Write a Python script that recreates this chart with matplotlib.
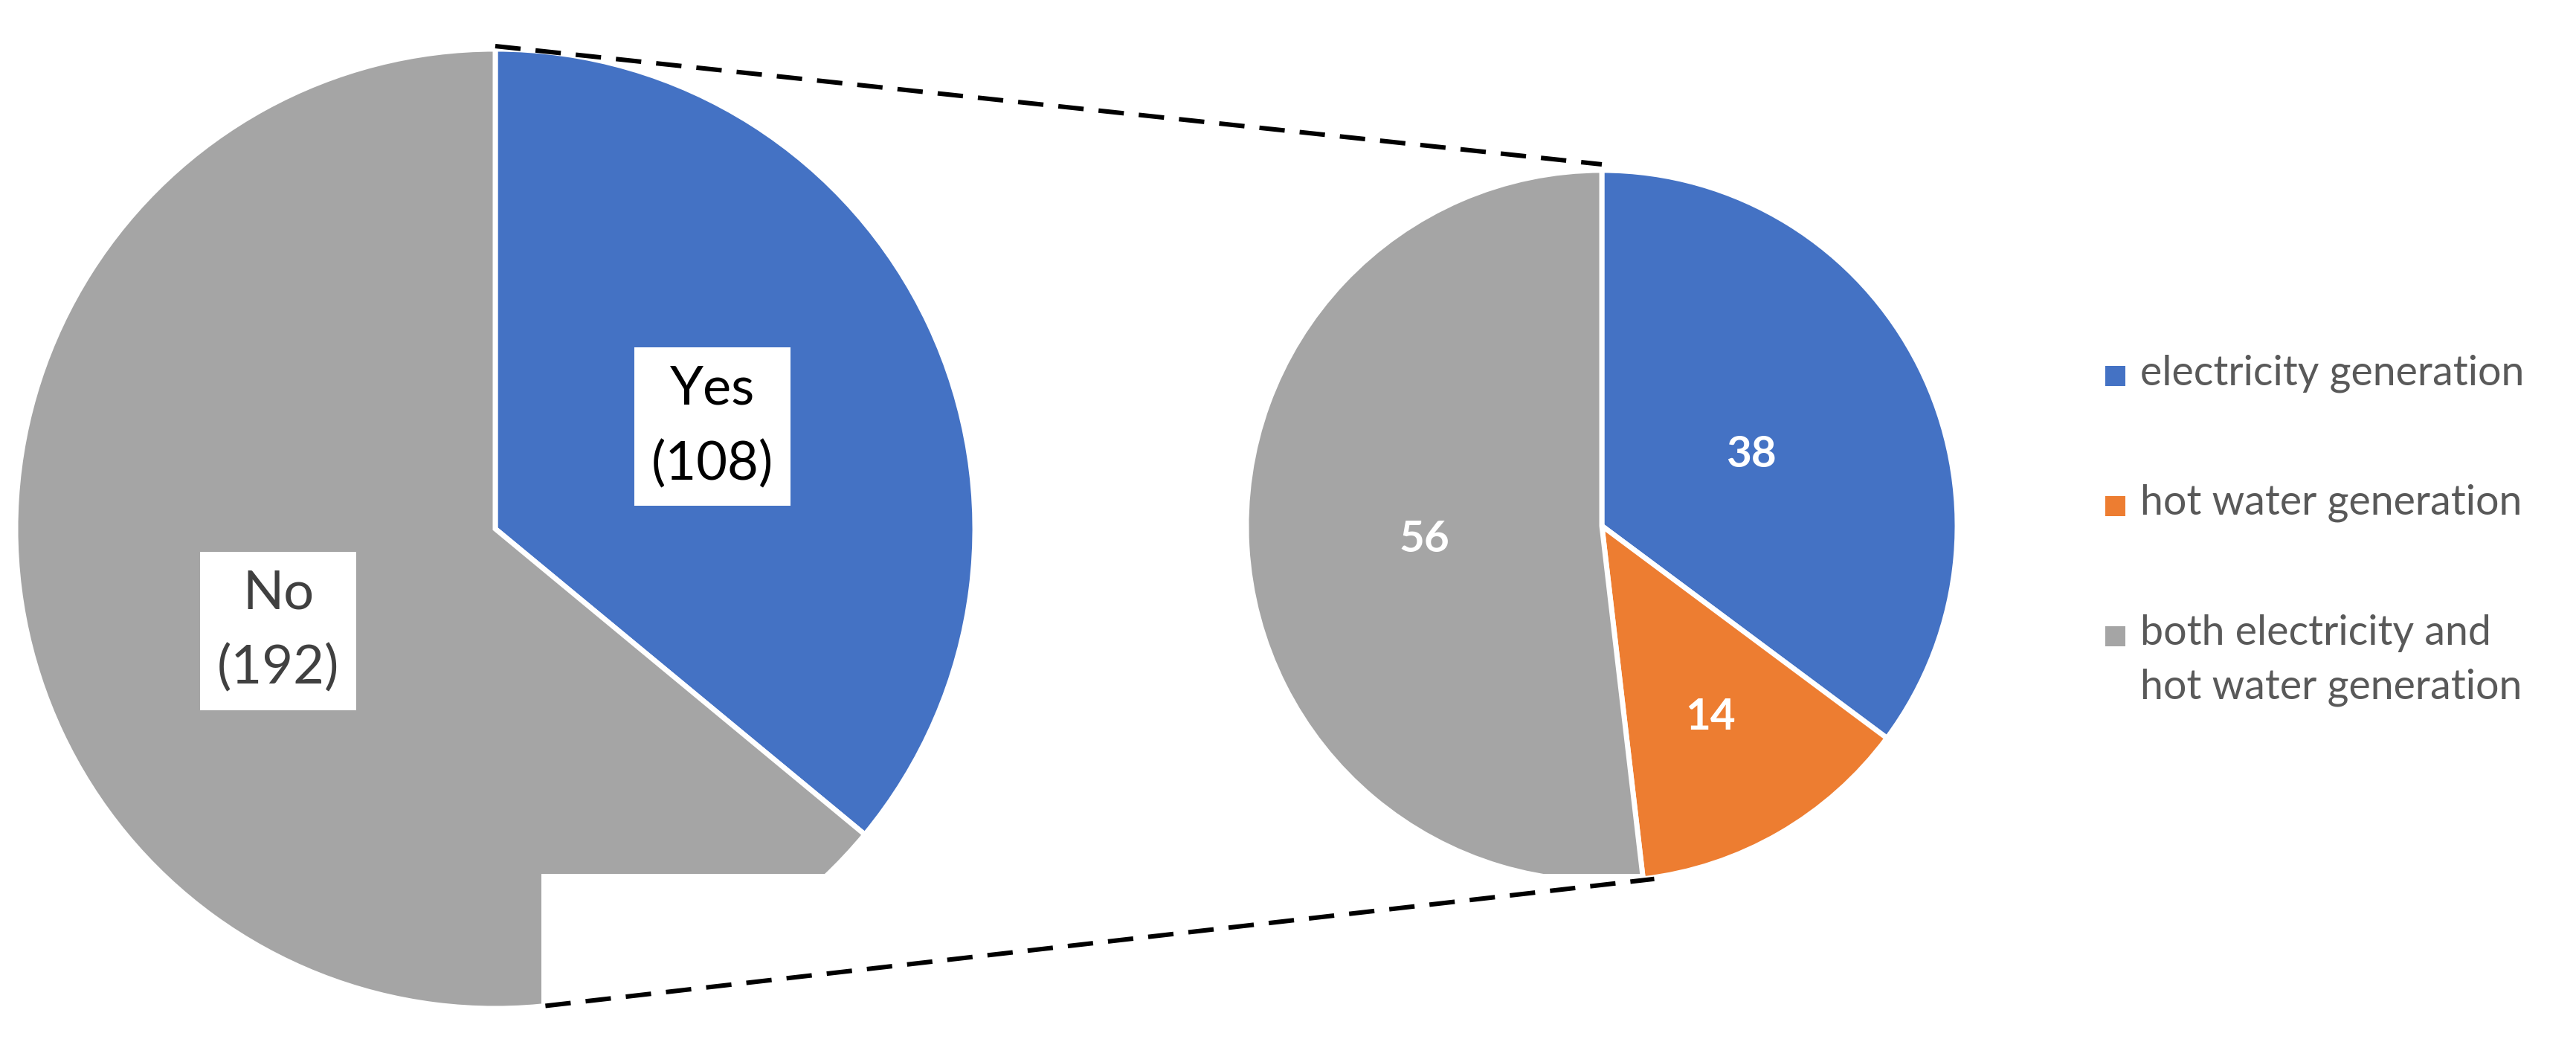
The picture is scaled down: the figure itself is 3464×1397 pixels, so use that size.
import numpy as np
import matplotlib
matplotlib.use("Agg")
import matplotlib.pyplot as plt
from matplotlib.patches import Rectangle

plt.rcParams["font.family"] = ["Lato", "DejaVu Sans"]

# data
outer_labels = ["Yes", "No"]
outer_values = [108, 192]
inner_labels = ["electricity generation", "hot water generation",
                "both electricity and\nhot water generation"]
inner_values = [38, 14, 56]

BLUE, ORANGE, GRAY = "#4472C4", "#ED7D31", "#A5A5A5"
W, H = 3464, 1397

fig = plt.figure(figsize=(W / 200, H / 200), dpi=200)
ax = fig.add_axes([0, 0, 1, 1])

# big pie (pixel-space layout, y up)
c1, r1 = (666, H - 711), 645
wedges1, _ = ax.pie(outer_values, colors=[BLUE, GRAY], startangle=90,
                    counterclock=False, center=c1, radius=r1, frame=True,
                    wedgeprops=dict(edgecolor="white", linewidth=2.5))

# small pie
c2, r2 = (2154, H - 707), 478
wedges2, _ = ax.pie(inner_values, colors=[BLUE, ORANGE, GRAY], startangle=90,
                    counterclock=False, center=c2, radius=r2, frame=True,
                    wedgeprops=dict(edgecolor="white", linewidth=2.5))

ax.set_xlim(0, W)
ax.set_ylim(0, H)
ax.set_aspect("equal")
ax.axis("off")

# labels for the big pie
text_colors = ["black", "#404040"]
for w, lab, val, tc in zip(wedges1, outer_labels, outer_values, text_colors):
    th = np.deg2rad((w.theta1 + w.theta2) / 2)
    x, y = c1[0] + 0.5 * r1 * np.cos(th), c1[1] + 0.5 * r1 * np.sin(th)
    ax.text(x, y, f"{lab}\n({val})", ha="center", va="center", fontsize=26,
            color=tc, linespacing=1.65, multialignment="center", zorder=5,
            bbox=dict(boxstyle="square,pad=0.32", fc="white", ec="none"))

# labels for the small pie
dists = [0.47, 0.61, 0.5]
for w, val, d in zip(wedges2, inner_values, dists):
    th = np.deg2rad((w.theta1 + w.theta2) / 2)
    x, y = c2[0] + d * r2 * np.cos(th), c2[1] + d * r2 * np.sin(th)
    ax.text(x, y, str(val), ha="center", va="center_baseline", fontsize=21,
            fontweight="bold", color="white", zorder=5)

# white block cutting the bottom of the pies
ax.add_patch(Rectangle((728, 0), 2210 - 728, H - 1175, fc="white",
                       ec="none", zorder=4))

# connector lines
a_top = np.deg2rad(90)
a_bot1 = np.deg2rad(-84)
a_bot2 = np.deg2rad(wedges2[1].theta1)
line_kw = dict(color="black", lw=2.2, dashes=(5.6, 3.3), zorder=6)
ax.plot([c1[0] + r1 * np.cos(a_top), c2[0] + r2 * np.cos(a_top)],
        [c1[1] + r1 * np.sin(a_top) + 4, c2[1] + r2 * np.sin(a_top) + 8],
        **line_kw)
ax.plot([c1[0] + r1 * np.cos(a_bot1), c2[0] + r2 * np.cos(a_bot2) + 15],
        [c1[1] + r1 * np.sin(a_bot1), c2[1] + r2 * np.sin(a_bot2)],
        **line_kw)

# legend (markers aligned with the first line of each entry)
leg_x, leg_y0, leg_step, sq, line_step = 2831, 505, 175, 27, 73
for i, (lab, col) in enumerate(zip(inner_labels, [BLUE, ORANGE, GRAY])):
    yc = H - (leg_y0 + i * leg_step)
    ax.add_patch(Rectangle((leg_x, yc - sq / 2), sq, sq, fc=col, ec="none"))
    for j, line in enumerate(lab.split("\n")):
        ax.text(leg_x + sq + 20, yc - 12 - j * line_step, line, ha="left",
                va="baseline", fontsize=20, color="#595959")

fig.savefig("out.png", dpi=200, facecolor="white")
